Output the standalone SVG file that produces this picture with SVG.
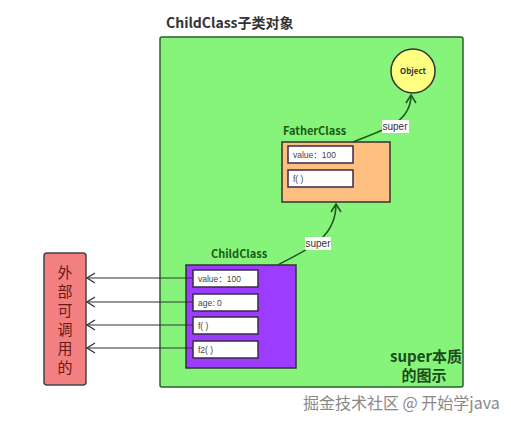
<svg xmlns="http://www.w3.org/2000/svg" width="511" height="426" viewBox="0 0 511 426">
<defs>
<style>
.t{font-family:"Noto Sans CJK SC","Liberation Sans",sans-serif}
.b{font-weight:bold}
.field{fill:#ffffff;stroke:#3a2a4a;stroke-width:1.5}
.ftxt{font-family:"Liberation Sans","Noto Sans CJK SC",sans-serif;font-size:8.5px;fill:#444}
.sup{font-family:"Liberation Sans",sans-serif;font-size:10px;fill:#333}
.curve{fill:none;stroke:#1e5a1e;stroke-width:1.6}
.ext{fill:none;stroke:#333;stroke-width:1.2}
</style>
<marker id="ag" markerWidth="12" markerHeight="12" refX="10" refY="6" orient="auto" markerUnits="userSpaceOnUse">
<path d="M2,1 L10,6 L2,11" fill="none" stroke="#1e5a1e" stroke-width="1.6"/>
</marker>
<marker id="ak" markerWidth="12" markerHeight="12" refX="10" refY="6" orient="auto" markerUnits="userSpaceOnUse">
<path d="M2,1 L10,6 L2,11" fill="none" stroke="#333" stroke-width="1.3"/>
</marker>
</defs>
<rect width="511" height="426" fill="#ffffff"/>

<g id="childObject">
<text class="t b" x="166" y="28" font-size="14" fill="#333">ChildClass子类对象</text>
<rect x="160" y="37" width="303" height="350" rx="2" fill="#86f47a" stroke="#2c5e2c" stroke-width="1.5"/>
<text class="t b" x="462" y="362" font-size="15" fill="#1c4a1c" text-anchor="end">super本质</text>
<text class="t b" x="424" y="381" font-size="15" fill="#1c4a1c" text-anchor="middle">的图示</text>
</g>

<g id="object">
<circle cx="413" cy="71" r="22" fill="#ffff80" stroke="#333" stroke-width="1.5"/>
<text class="t b" x="413" y="74" font-size="8" fill="#333" text-anchor="middle">Object</text>
</g>

<g id="fatherClass">
<text class="t b" x="283" y="135" font-size="11" fill="#1c5a1c">FatherClass</text>
<rect x="282" y="142" width="108" height="60" fill="#ffbf80" stroke="#333" stroke-width="1.5"/>
<rect class="field" x="288" y="146" width="65" height="17"/>
<text class="ftxt" x="293" y="158">value：100</text>
<rect class="field" x="288" y="170" width="65" height="17"/>
<text class="ftxt" x="293" y="182">f( )</text>
</g>

<g id="childClass">
<text class="t b" x="211" y="258" font-size="11" fill="#1c5a1c">ChildClass</text>
<rect x="186" y="265" width="110" height="103" fill="#9b3cff" stroke="#333" stroke-width="1.5"/>
<rect class="field" x="193" y="270" width="65" height="17"/>
<text class="ftxt" x="198" y="282">value：100</text>
<rect class="field" x="193" y="294" width="65" height="17"/>
<text class="ftxt" x="198" y="306">age: 0</text>
<rect class="field" x="193" y="317" width="65" height="17"/>
<text class="ftxt" x="198" y="329">f( )</text>
<rect class="field" x="193" y="341" width="65" height="17"/>
<text class="ftxt" x="198" y="353">f2( )</text>
</g>

<g id="external">
<rect x="44" y="253" width="42" height="132" rx="3" fill="#f28080" stroke="#444" stroke-width="1.5"/>
<g class="t" font-size="15" fill="#6a1818" text-anchor="middle">
<text x="65" y="278">外</text>
<text x="65" y="297">部</text>
<text x="65" y="316">可</text>
<text x="65" y="335">调</text>
<text x="65" y="354">用</text>
<text x="65" y="373">的</text>
</g>
</g>

<g id="connectors">
<path class="curve" d="M278,265 C300,252 336,242 336,204" marker-end="url(#ag)"/>
<path class="curve" d="M353,142 C375,132 411,126 411,95" marker-end="url(#ag)"/>
<rect x="305" y="237" width="26" height="13" fill="#ffffff"/>
<text class="sup" x="318" y="247" text-anchor="middle">super</text>
<rect x="382" y="120" width="27" height="13" fill="#ffffff"/>
<text class="sup" x="395" y="130" text-anchor="middle">super</text>
<path class="ext" d="M193,278 L87,278" marker-end="url(#ak)"/>
<path class="ext" d="M193,302 L87,302" marker-end="url(#ak)"/>
<path class="ext" d="M193,325 L87,325" marker-end="url(#ak)"/>
<path class="ext" d="M193,348 L87,348" marker-end="url(#ak)"/>
</g>

<text class="t" x="303" y="409" font-size="16" fill="#888">掘金技术社区 @ 开始学java</text>
</svg>
